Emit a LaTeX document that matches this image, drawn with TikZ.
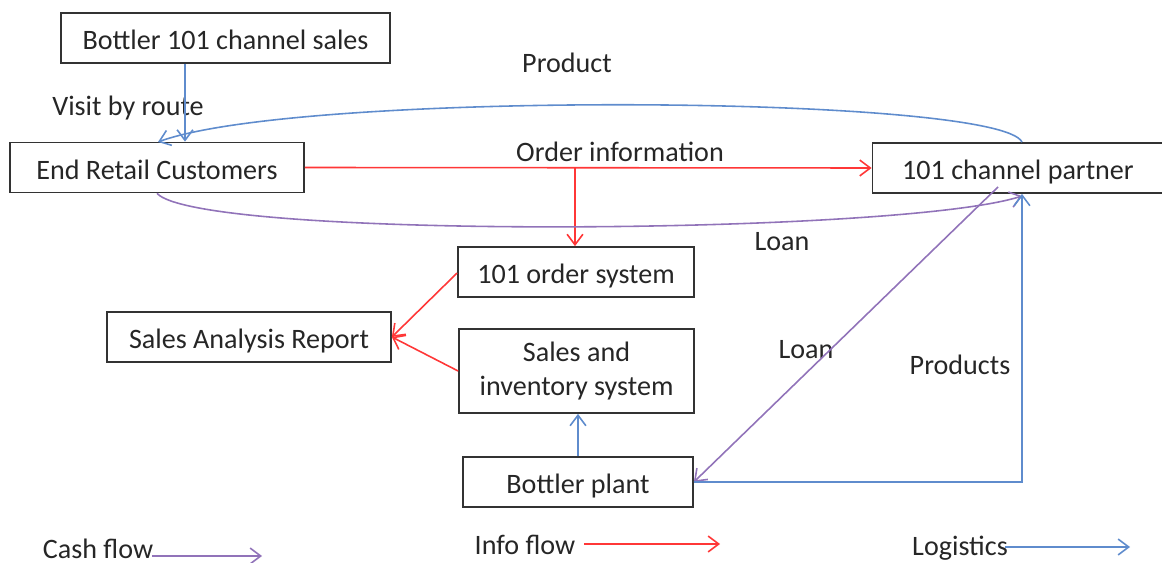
\documentclass[tikz,border=0pt]{standalone}
\usepackage{fontspec}
\setmainfont{Carlito}
\usetikzlibrary{arrows.meta}
\definecolor{lblue}{RGB}{95,140,205}
\definecolor{lred}{RGB}{255,55,55}
\definecolor{lpurp}{RGB}{145,115,185}
\definecolor{txt}{RGB}{38,38,38}
\begin{document}
\begin{tikzpicture}[x=0.02cm,y=-0.02cm,
  every node/.style={font=\fontsize{16}{19}\selectfont, text=txt},
  box/.style={draw=black!80, line width=1pt, minimum height=50*0.02cm, inner sep=0pt, align=center},
  onebox/.style={box, text height=14.5pt, text depth=1pt},
  lab/.style={inner sep=0pt},
  tip/.style={-{Straight Barb[length=6pt,width=9pt]}},
  bluel/.style={draw=lblue, line width=0.9pt, tip},
  redl/.style={draw=lred, line width=0.9pt, tip},
  purl/.style={draw=lpurp, line width=0.9pt, tip}]
\useasboundingbox (0,0) rectangle (1162,563);
% boxes
\node[onebox, minimum width=329*0.02cm] (bs) at (225.5,38) {Bottler 101 channel sales};
\node[onebox, minimum width=294*0.02cm] (erc) at (157,167.5) {End Retail Customers};
\node[onebox, minimum width=291*0.02cm] (cp) at (1018,168) {101 channel partner};
\node[onebox, minimum width=236*0.02cm] (os) at (576,272) {101 order system};
\node[onebox, minimum width=284*0.02cm] (sar) at (249,337) {Sales Analysis Report};
\node[box, minimum width=235*0.02cm, minimum height=84*0.02cm] (sis) at (576.5,371) {Sales and\\inventory system};
\node[onebox, minimum width=230*0.02cm] (bp) at (578,482) {Bottler plant};
% labels
\node[lab] (lprod) at (567,63) {Product};
\node[lab] (lvisit) at (128,108) {Visit by route};
\node[lab] (lorder) at (620,152) {Order information};
\node[lab] (lloan1) at (782,242) {Loan};
\node[lab] (lloan2) at (806,350) {Loan};
\node[lab] (lprods) at (960,365) {Products};
% connectors
\draw[bluel] (bs.south -| 185,0) -- (erc.north -| 185,0);
\draw[bluel] (cp.north -| 1022,0) .. controls (1000,95) and (300,90) .. (158,142);
\coordinate (obr) at (575,168);
\draw[redl] (erc.east) -- (cp.west);
\draw[redl] (obr) -- (os.north -| obr);
\draw[purl] (erc.south) .. controls (200,240) and (900,235) .. (1022,196);
\draw[redl] (os.west) ++(0,1) -- (sar.east);
\draw[redl] (sis.west) -- (sar.east);
\draw[bluel] (bp.north -| 578,0) -- (sis.south -| 578,0);
\coordinate (ds) at (998,187);
\draw[purl] (ds) -- (bp.east);
\coordinate (corner) at (1022,482);
\draw[bluel] (bp.east) -- (corner) -- (cp.south -| corner);
% legend
\node[lab] (lcash) at (98,549) {Cash flow};
\coordinate (ca) at (152,556);
\coordinate (cb) at (262,556);
\draw[purl] (ca) -- (cb);
\node[lab] (linfo) at (525,545) {Info flow};
\coordinate (ia) at (584,544);
\coordinate (ib) at (720,544);
\draw[redl] (ia) -- (ib);
\node[lab] (llog) at (960,548) {Logistics};
\coordinate (ga) at (1005,547);
\coordinate (gb) at (1130,547);
\draw[bluel] (ga) -- (gb);
\end{tikzpicture}
\end{document}
